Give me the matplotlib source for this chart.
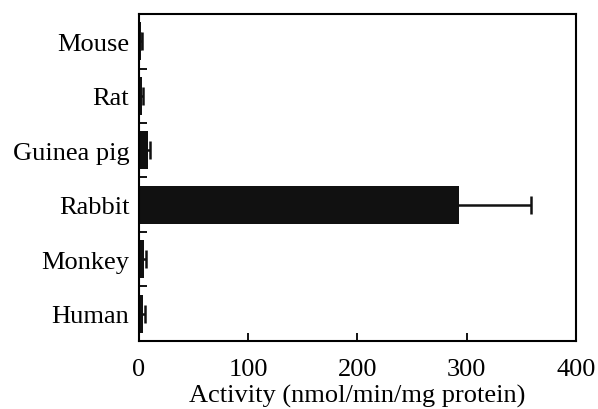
import numpy as np
import matplotlib
matplotlib.use('Agg')
import matplotlib.pyplot as plt

species = ['Mouse', 'Rat', 'Guinea pig', 'Rabbit', 'Monkey', 'Human']
activity = [1.5, 2.5, 8, 293, 4.5, 3.5]
errors = [1, 1.5, 2, 66, 2, 2]
xticks = [0, 100, 200, 300, 400]

plt.rcParams['font.family'] = ['Liberation Serif', 'DejaVu Serif']

fig = plt.figure(figsize=(5.98, 4.10), dpi=100)
ax = fig.add_axes([0.2324, 0.1659, 0.7308, 0.7975])

ypos = np.arange(len(species))
ax.barh(ypos, activity, height=0.7, color='#111111', xerr=errors,
        error_kw=dict(ecolor='#111111', elinewidth=1.8, capsize=6.5, capthick=1.8))

ax.set_xlim(0, 400)
ax.set_ylim(-0.5, len(species) - 0.5)
ax.invert_yaxis()

ax.set_xticks(xticks)
ax.set_yticks(ypos)
ax.set_yticklabels(species)
ax.set_yticks(ypos[:-1] + 0.5, minor=True)

ax.tick_params(axis='x', direction='in', length=6, width=1.3, labelsize=19, pad=12.4)
ax.tick_params(axis='y', which='major', length=0, labelsize=19, pad=7)
ax.tick_params(axis='y', which='minor', direction='in', length=6, width=1.3)

for s in ax.spines.values():
    s.set_linewidth(1.5)

ax.set_xlabel('Activity (nmol/min/mg protein)', fontsize=19, labelpad=2.5)

fig.savefig('out.png', dpi=100)
